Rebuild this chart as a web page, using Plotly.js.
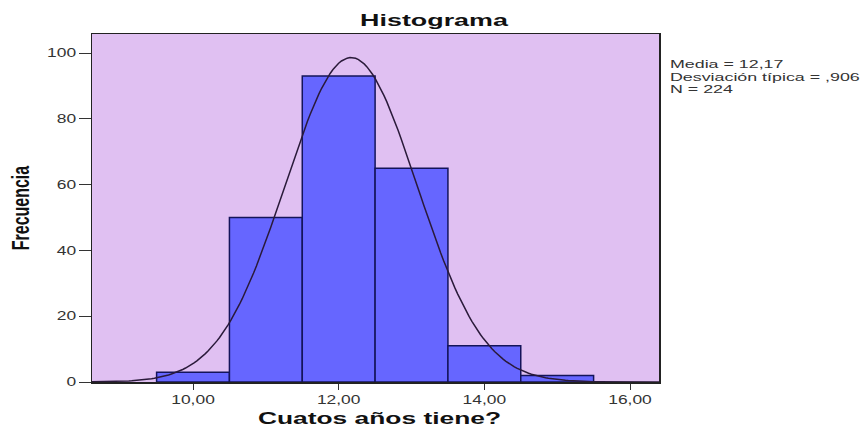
<!DOCTYPE html>
<html>
<head>
<meta charset="utf-8">
<script src="https://cdn.plot.ly/plotly-3.0.1.min.js"></script>
<style>html,body{margin:0;padding:0;background:#fff;}#chart{width:868px;height:429px;}</style>
</head>
<body>
<div id="chart"></div>
<script>
// Histogram bins (centers) and frequencies
const binCenters = [10, 11, 12, 13, 14, 15];
const frequencies = [3, 50, 93, 65, 11, 2];
// Reported statistics
const mean = 12.17;
const stdDev = 0.906;
const nTotal = 224;
const binWidth = 1;
// Tick labels
const xTickVals = [10, 12, 14, 16];
const xTickText = ["10,00", "12,00", "14,00", "16,00"];
const yTickVals = [0, 20, 40, 60, 80, 100];
const statsLines = ["Media = 12,17", "Desviación típica = ,906", "N = 224"];

// Fitted normal curve from the reported mean, sd and N
const xMin = 8.613, xMax = 16.398;
const curveX = [];
const curveY = [];
for (let i = 0; i <= 200; i++) {
  const x = xMin + (xMax - xMin) * i / 200;
  curveX.push(x);
  curveY.push(nTotal * binWidth / (stdDev * Math.sqrt(2 * Math.PI)) * Math.exp(-0.5 * Math.pow((x - mean) / stdDev, 2)));
}

const data = [
  {
    type: 'bar', x: binCenters, y: frequencies, width: binWidth,
    marker: {color: '#6666ff', line: {color: '#14145a', width: 1.5}},
    hoverinfo: 'x+y'
  },
  {
    type: 'scatter', mode: 'lines', x: curveX, y: curveY,
    line: {color: '#2a1a3a', width: 1.5}, hoverinfo: 'skip'
  }
];

const annotations = statsLines.map((t, i) => ({
  xref: 'paper', yref: 'paper', x: 1.016, y: 1 - (22 + i * 12.5) / 348,
  xanchor: 'left', yanchor: 'top', align: 'left', showarrow: false,
  text: t, font: {size: 11, color: '#333'}
}));

const layout = {
  width: 868, height: 429,
  margin: {l: 92, r: 209, t: 34, b: 47},
  paper_bgcolor: '#ffffff',
  plot_bgcolor: '#e0c0f2',
  showlegend: false,
  font: {family: 'Liberation Sans, Arial, sans-serif', color: '#222'},
  title: {text: '<b>Histograma</b>', x: 0.5, xref: 'container', xanchor: 'center', y: 0.966, yref: 'container', yanchor: 'top', font: {size: 17, color: '#111'}},
  xaxis: {
    range: [xMin, xMax], tickvals: xTickVals, ticktext: xTickText,
    ticks: 'outside', ticklen: 6, tickcolor: '#333', tickwidth: 1,
    showgrid: false, zeroline: false,
    showline: true, linecolor: '#222', linewidth: 1.5, mirror: true,
    tickfont: {size: 12, color: '#333'},
    title: {text: '<b>Cuatos años tiene?</b>', font: {size: 17, color: '#111'}, standoff: 6}
  },
  yaxis: {
    range: [0, 105.8], tickvals: yTickVals,
    ticks: 'outside', ticklen: 12, tickcolor: '#333', tickwidth: 1,
    showgrid: false, zeroline: false,
    showline: true, linecolor: '#222', linewidth: 1.5, mirror: true,
    tickfont: {size: 12, color: '#333'},
    title: {text: '<b>Frecuencia</b>', font: {size: 16, color: '#111'}, standoff: 22}
  },
  annotations: annotations
};

function stretch(sel, f, shift) {
  document.querySelectorAll(sel).forEach(t => {
    const w = t.getComputedTextLength();
    if (w > 0) {
      t.setAttribute('textLength', (w * f).toFixed(2));
      t.setAttribute('lengthAdjust', 'spacingAndGlyphs');
      if (shift) t.setAttribute('x', (parseFloat(t.getAttribute('x')) + shift).toFixed(2));
    }
  });
}

Plotly.newPlot('chart', data, layout, {displayModeBar: false, staticPlot: true}).then(() => {
  stretch('.gtitle', 1.58);
  stretch('.g-xtitle text', 1.55, 4);
  stretch('.xtick text', 1.45);
  stretch('.ytick text', 1.45);
  stretch('.annotation-text', 1.62);
  // widen the rotated y title horizontally (glyph height direction)
  const yt = document.querySelector('.g-ytitle text');
  if (yt) {
    const x = parseFloat(yt.getAttribute('x')), y = parseFloat(yt.getAttribute('y'));
    const tr = yt.getAttribute('transform') || '';
    yt.setAttribute('transform', `translate(${x},${y}) scale(1.45,1) translate(${-x},${-y}) ` + tr);
  }
});
</script>
</body>
</html>
